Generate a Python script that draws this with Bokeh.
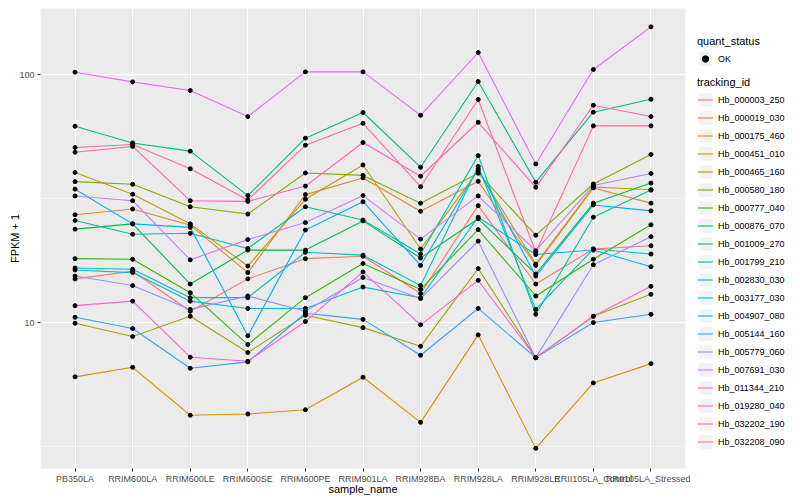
from bokeh.plotting import figure
from bokeh.layouts import row
from bokeh.models import (FactorRange, Range1d, FixedTicker, Legend, LegendItem,
                          PrintfTickFormatter)
from bokeh.embed import file_html
from bokeh.resources import INLINE

sample_names = ["PB350LA", "RRIM600LA", "RRIM600LE", "RRIM600SE", "RRIM600PE",
                "RRIM901LA", "RRIM928BA", "RRIM928LA", "RRIM928LE",
                "RRII105LA_Control", "RRII105LA_Stressed"]

tracking_ids = ["Hb_000003_250", "Hb_000019_030", "Hb_000175_460", "Hb_000451_010",
                "Hb_000465_160", "Hb_000580_180", "Hb_000777_040", "Hb_000876_070",
                "Hb_001009_270", "Hb_001799_210", "Hb_002830_030", "Hb_003177_030",
                "Hb_004907_080", "Hb_005144_160", "Hb_005779_060", "Hb_007691_030",
                "Hb_011344_210", "Hb_019280_040", "Hb_032202_190", "Hb_032208_090"]

hue_colors = ["#F8766D", "#EA8331", "#D89000", "#C09B00", "#A3A500", "#7CAE00",
              "#39B600", "#00BB4E", "#00BF7D", "#00C1A3", "#00BFC4", "#00BAE0",
              "#00B0F6", "#35A2FF", "#9590FF", "#C77CFF", "#E76BF3", "#FA62DB",
              "#FF62BC", "#FF6C91"]

quant_status = ["OK"]

# FPKM + 1 per sample (order of sample_names)
hb_000003_250 = [15.0, 16.1, 11.1, 15.0, 18.1, 18.5, 13.1, 29.6, 14.3, 19.8, 20.4]
hb_000019_030 = [27.2, 28.7, 24.7, 15.9, 32.8, 38.3, 28.1, 37.1, 17.0, 34.9, 30.3]
hb_000175_460 = [6.04, 6.60, 4.23, 4.28, 4.45, 6.02, 3.96, 8.92, 3.11, 5.71, 6.83]
hb_000451_010 = [40.3, 32.9, 25.0, 16.9, 31.4, 43.2, 19.8, 41.0, 17.2, 35.2, 34.3]
hb_000465_160 = [9.94, 8.78, 10.6, 7.57, 10.7, 9.54, 8.02, 16.5, 7.22, 10.6, 13.0]
hb_000580_180 = [37.0, 36.1, 29.3, 27.4, 40.1, 39.2, 30.3, 40.0, 22.5, 36.2, 47.6]
hb_000777_040 = [18.1, 18.0, 13.2, 8.15, 12.6, 17.3, 13.6, 23.7, 12.8, 18.0, 24.8]
hb_000876_070 = [23.8, 25.0, 14.3, 19.6, 19.6, 25.7, 18.2, 26.2, 15.7, 30.3, 36.5]
hb_001009_270 = [61.9, 53.0, 49.1, 32.5, 55.4, 70.3, 42.3, 93.7, 36.8, 70.5, 79.5]
hb_001799_210 = [25.8, 22.7, 22.9, 19.9, 29.3, 25.9, 18.9, 47.1, 10.8, 26.6, 34.2]
hb_002830_030 = [16.6, 16.4, 12.6, 12.6, 19.2, 18.7, 14.1, 42.6, 11.3, 19.8, 18.9]
hb_003177_030 = [16.3, 15.9, 12.2, 11.4, 11.4, 13.9, 12.6, 26.6, 18.8, 19.6, 16.8]
hb_004907_080 = [34.5, 25.0, 24.2, 8.84, 23.6, 30.7, 17.0, 41.7, 15.4, 29.8, 28.2]
hb_005144_160 = [10.5, 9.46, 6.54, 6.94, 10.9, 10.3, 7.38, 11.4, 7.22, 10.0, 10.8]
hb_005779_060 = [15.4, 14.1, 11.3, 12.8, 11.1, 15.2, 12.5, 21.3, 7.22, 17.1, 22.2]
hb_007691_030 = [32.4, 31.0, 17.9, 21.6, 25.3, 32.5, 21.7, 32.4, 19.5, 35.7, 39.9]
hb_011344_210 = [102.2, 93.4, 86.2, 67.7, 102.5, 102.5, 68.5, 122.7, 43.6, 104.8, 155.7]
hb_019280_040 = [11.7, 12.2, 7.25, 6.98, 10.1, 16.0, 9.79, 14.8, 7.22, 10.6, 14.0]
hb_032202_190 = [48.6, 51.3, 31.0, 30.8, 35.5, 53.2, 38.9, 64.2, 35.1, 75.2, 67.7]
hb_032208_090 = [50.8, 52.2, 41.7, 31.2, 51.9, 63.6, 35.3, 79.3, 19.2, 62.1, 62.1]

y_ticks = [10, 100]
y_minor = [3.1623, 31.623]

series = [hb_000003_250, hb_000019_030, hb_000175_460, hb_000451_010, hb_000465_160,
          hb_000580_180, hb_000777_040, hb_000876_070, hb_001009_270, hb_001799_210,
          hb_002830_030, hb_003177_030, hb_004907_080, hb_005144_160, hb_005779_060,
          hb_007691_030, hb_011344_210, hb_019280_040, hb_032202_190, hb_032208_090]

FONT = "Liberation Sans"
LINE_W = 1.1
PT_SIZE = 4

p = figure(x_range=FactorRange(factors=sample_names, range_padding=0.1,
                               range_padding_units="absolute"),
           y_range=Range1d(2.58, 184.6), y_axis_type="log",
           frame_width=645, frame_height=460,
           min_border_left=40, min_border_right=5, min_border_top=8,
           min_border_bottom=26,
           output_backend="svg", toolbar_location=None)

p.background_fill_color = "#EBEBEB"
p.border_fill_color = "white"
p.outline_line_color = None

for vals, col in zip(series, hue_colors):
    p.line(x=sample_names, y=vals, line_color=col, line_width=LINE_W)

for vals in series:
    p.scatter(x=sample_names, y=vals, size=PT_SIZE, fill_color="black",
              line_color="black")

for ax in (p.xaxis[0], p.yaxis[0]):
    ax.axis_line_color = None
    ax.major_tick_line_color = "#333333"
    ax.major_tick_out = 3
    ax.major_tick_in = 0
    ax.minor_tick_line_color = None
    ax.major_label_text_font = FONT
    ax.major_label_text_font_size = "9px"
    ax.major_label_text_color = "#4D4D4D"
    ax.major_label_standoff = 2
    ax.axis_label_text_font = FONT
    ax.axis_label_text_font_size = "11px"
    ax.axis_label_text_font_style = "normal"
    ax.axis_label_text_color = "black"

p.xaxis.axis_label = "sample_name"
p.xaxis.axis_label_standoff = -4
p.yaxis.axis_label = "FPKM + 1"
p.yaxis.axis_label_standoff = -5
p.yaxis.ticker = FixedTicker(ticks=y_ticks, minor_ticks=y_minor)
p.yaxis.formatter = PrintfTickFormatter(format="%d")

p.xgrid.grid_line_color = "white"
p.xgrid.grid_line_width = 1
p.ygrid.grid_line_color = "white"
p.ygrid.grid_line_width = 1
p.ygrid.minor_grid_line_color = "white"
p.ygrid.minor_grid_line_width = 0.5

# legend panel (hidden helper renderers supply the legend keys)
lp = figure(width=110, height=500, x_range=Range1d(0, 1), y_range=Range1d(0, 1),
            x_axis_location=None, y_axis_location=None, min_border=0,
            output_backend="svg", toolbar_location=None)
lp.grid.visible = False
lp.outline_line_color = None
lp.background_fill_color = "white"
lp.border_fill_color = "white"

key_src = dict(x=[0.5], y=[0.5])
key_bg = lp.rect(x="x", y="y", width=0.1, height=0.1, source=key_src,
                 fill_color="#F2F2F2", line_color=None, visible=False)
key_pt = lp.scatter(x="x", y="y", source=key_src, size=PT_SIZE,
                    fill_color="black", line_color="black", visible=False)
key_lines = [lp.line(x="x", y="y", source=key_src, line_color=c, line_width=LINE_W,
                     visible=False) for c in hue_colors]

legend_style = dict(padding=0, margin=0, border_line_color=None,
                    background_fill_color="white", background_fill_alpha=1.0,
                    label_text_font=FONT, label_text_font_size="9px",
                    label_text_color="black",
                    title_text_font=FONT, title_text_font_size="11px",
                    title_text_font_style="normal", title_text_color="black",
                    glyph_width=16, glyph_height=17, spacing=1,
                    label_standoff=5, title_standoff=3, label_height=17)

leg1 = Legend(items=[LegendItem(label=quant_status[0], renderers=[key_bg, key_pt])],
              title="quant_status", location=(7, 404), **legend_style)
leg2 = Legend(items=[LegendItem(label=t, renderers=[key_bg, r])
                     for t, r in zip(tracking_ids, key_lines)],
              title="tracking_id", location=(7, 21), **legend_style)
lp.add_layout(leg1)
lp.add_layout(leg2)

layout = row(p, lp)
open("out.html", "w").write(file_html(layout, INLINE))
